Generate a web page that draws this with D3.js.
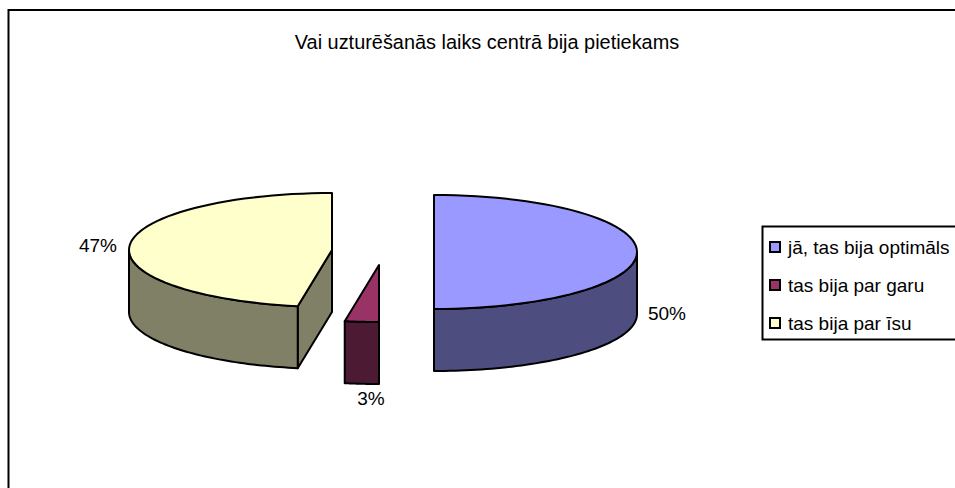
<!DOCTYPE html>
<html lang="lv">
<head>
<meta charset="UTF-8">
<title>Vai uzturēšanās laiks centrā bija pietiekams</title>
<script src="https://d3js.org/d3.v7.min.js"></script>
<style>
  html, body { margin: 0; padding: 0; background: #fff; overflow: hidden; }
  svg { display: block; }
  text { font-family: "Liberation Sans", Arial, sans-serif; font-size: 19px; fill: #000; }
</style>
</head>
<body>
<script>
// data
var title = "Vai uzturēšanās laiks centrā bija pietiekams";
var categories = ["jā, tas bija optimāls", "tas bija par garu", "tas bija par īsu"];
var shares = [50, 2.7, 47.3];
var topColors = ["#9999ff", "#993366", "#ffffcc"];
var sideColors = ["#4d4d80", "#4d1a33", "#808066"];

var width = 955, height = 488;
var rx = 203, ry = 57, depth = 62;
// exploded centre of each slice
var centers = [[434, 252], [379, 265], [332, 250]];
var labelPos = [[667, 320], [371, 405], [98, 252]];

var svg = d3.select("body").append("svg")
  .attr("width", width).attr("height", height);

// frame runs off the right and bottom of the picture
svg.append("path")
  .attr("d", "M8.5 " + (height + 5) + "V10H" + (width + 5))
  .attr("fill", "none").attr("stroke", "#000").attr("stroke-width", 2);

svg.append("text").attr("x", 487).attr("y", 49)
  .attr("text-anchor", "middle").style("font-size", "19.9px").text(title);

var pie = d3.pie().sort(null).startAngle(0).endAngle(2 * Math.PI);
var arcs = pie(shares);

// unit scales that flatten the circle to the tilted ellipse
var sx = d3.scaleLinear().domain([-1, 1]).range([-rx, rx]);
var sy = d3.scaleLinear().domain([-1, 1]).range([ry, -ry]);

function pt(a, c, dz) {
  return [c[0] + sx(Math.sin(a)), c[1] + sy(Math.cos(a)) + (dz || 0)];
}
function arcPts(a0, a1, c, dz) {
  return d3.range(0, 61).map(function(i) {
    return pt(a0 + (a1 - a0) * i / 60, c, dz);
  });
}
var line = d3.line().curve(d3.curveLinear);

arcs.forEach(function(d, i) {
  var c = centers[i];
  var g = svg.append("g")
    .attr("stroke", "#000").attr("stroke-width", 2).attr("stroke-linejoin", "round");

  // radial wall at the start angle, only seen when it faces the viewer
  if (d.startAngle > Math.PI && d.endAngle > 1.5 * Math.PI) {
    var p = pt(d.startAngle, c);
    g.append("path")
      .attr("d", line([c, p, [p[0], p[1] + depth], [c[0], c[1] + depth]]) + "Z")
      .attr("fill", sideColors[i]);
  }

  // outer wall, front half of the rim
  var a0 = Math.max(d.startAngle, Math.PI / 2), a1 = Math.min(d.endAngle, 1.5 * Math.PI);
  if (a1 > a0) {
    var wall = arcPts(a0, a1, c, 0).concat(arcPts(a1, a0, c, depth));
    g.append("path").attr("d", line(wall) + "Z").attr("fill", sideColors[i]);
  }

  // top face
  g.append("path")
    .attr("d", line([c].concat(arcPts(d.startAngle, d.endAngle, c, 0))) + "Z")
    .attr("fill", topColors[i]);

  svg.append("text")
    .attr("x", labelPos[i][0]).attr("y", labelPos[i][1])
    .attr("text-anchor", "middle").text(Math.round(shares[i]) + "%");
});

// legend
var legendX = 762.5, legendTop = 226.5, legendBottom = 339.5;
svg.append("path")
  .attr("d", "M" + (width + 5) + " " + legendTop + "H" + legendX + "V" + legendBottom + "H" + (width + 5))
  .attr("fill", "none").attr("stroke", "#000").attr("stroke-width", 2);

var legendY = d3.scalePoint().domain(categories).range([247, 323]);
categories.forEach(function(name, i) {
  svg.append("rect")
    .attr("x", 770).attr("y", legendY(name) - 5).attr("width", 10).attr("height", 10)
    .attr("fill", topColors[i]).attr("stroke", "#000").attr("stroke-width", 2);
  svg.append("text").attr("x", 788).attr("y", legendY(name) + 7).text(name);
});
</script>
</body>
</html>
